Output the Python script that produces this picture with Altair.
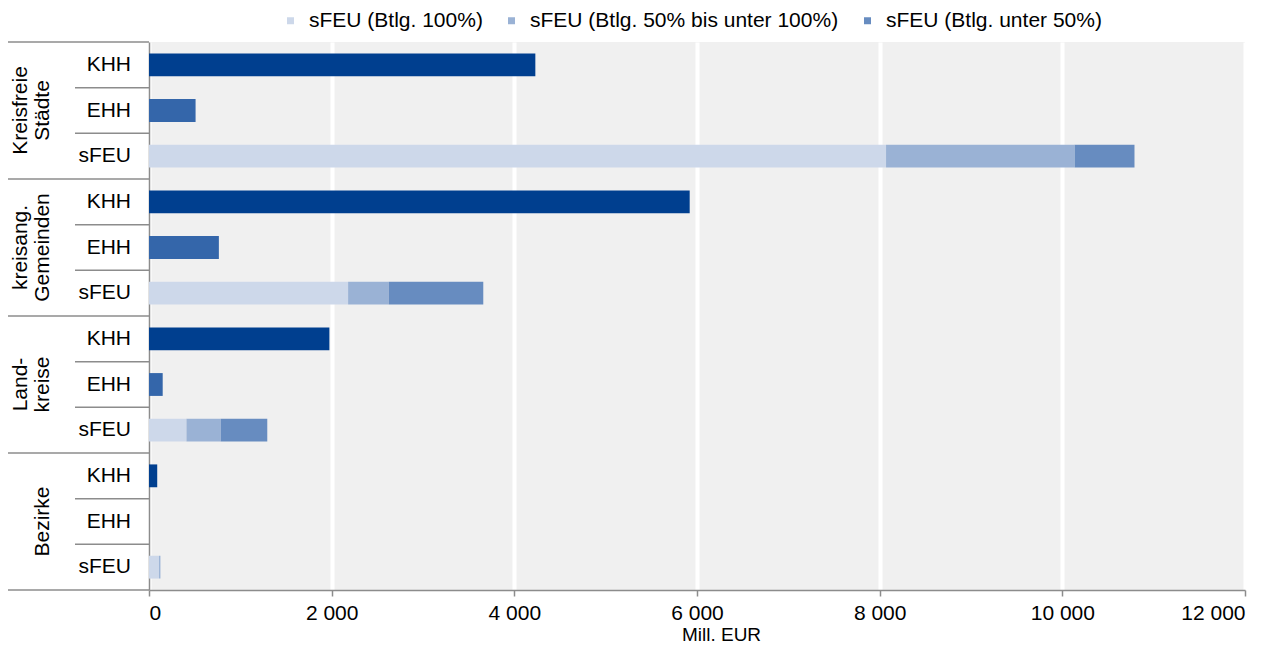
import altair as alt
import pandas as pd

# ---- data ----
group_labels = ["Kreisfreie\nStädte", "kreisang.\nGemeinden", "Land-\nkreise", "Bezirke"]
row_kinds = ["KHH", "EHH", "sFEU"]
khh = [4230, 5920, 1975, 90]
ehh = [510, 765, 150, 0]
sfeu_100 = [8070, 2180, 410, 110]
sfeu_50_100 = [2065, 445, 375, 15]
sfeu_u50 = [655, 1035, 510, 0]

series_names = ["KHH", "EHH", "sFEU (Btlg. 100%)", "sFEU (Btlg. 50% bis unter 100%)", "sFEU (Btlg. unter 50%)"]
series_colors = ["#003f8f", "#3466aa", "#cdd8ea", "#9ab2d5", "#678cc0"]
legend_values = series_names[2:]
x_ticks = [0, 2000, 4000, 6000, 8000, 10000, 12000]

FONT = "Liberation Sans"
FS = 21
LINE = "#8c8c8c"

rows = []
for gi in range(len(group_labels)):
    for k in row_kinds:
        rows.append(f"{gi}-{k}")

bar_recs = []
for gi in range(len(group_labels)):
    bar_recs.append({"row": f"{gi}-KHH", "series": "KHH", "value": khh[gi], "ord": 0})
    bar_recs.append({"row": f"{gi}-EHH", "series": "EHH", "value": ehh[gi], "ord": 0})
    bar_recs.append({"row": f"{gi}-sFEU", "series": series_names[2], "value": sfeu_100[gi], "ord": 0})
    bar_recs.append({"row": f"{gi}-sFEU", "series": series_names[3], "value": sfeu_50_100[gi], "ord": 1})
    bar_recs.append({"row": f"{gi}-sFEU", "series": series_names[4], "value": sfeu_u50[gi], "ord": 2})
bars_df = pd.DataFrame(bar_recs)

row_lab_df = pd.DataFrame({"row": rows, "label": [r.split("-")[1] for r in rows]})
grp_df = pd.DataFrame({
    "row": [f"{gi}-EHH" for gi in range(len(group_labels))],
    "label": group_labels,
    "lines": [lab.count("\n") + 1 for lab in group_labels],
})
bound_df = pd.DataFrame({"row": rows, "idx": list(range(len(rows)))})
bound_df["is_group"] = bound_df["idx"] % 3 == 0

yscale = alt.Scale(domain=rows, paddingInner=0, paddingOuter=0)


def Y(**kw):
    return alt.Y("row:N", scale=yscale, sort=rows, title=None,
                 axis=alt.Axis(labels=False, ticks=False, domain=True, domainColor=LINE,
                               domainWidth=1.5, grid=False), **kw)


bars = alt.Chart(bars_df).mark_bar(height=alt.RelativeBandSize(0.5)).encode(
    x=alt.X("value:Q", stack="zero", scale=alt.Scale(domain=[0, 12000], nice=False),
            title="Mill. EUR",
            axis=alt.Axis(values=x_ticks, grid=True, gridColor="white", gridWidth=4,
                          domainColor=LINE, domainWidth=1.5, tickColor=LINE,
                          tickWidth=1.5, tickSize=6, labelPadding=6,
                          labelExpr="replace(format(datum.value, ',d'), ',', ' ')",
                          labelFont=FONT, labelFontSize=FS, labelColor="black",
                          titleFont=FONT, titleFontSize=19, titleFontWeight="normal",
                          titleColor="black", titleX=572, titleY=50.8,
                          titleBaseline="alphabetic")),
    y=Y(),
    color=alt.Color("series:N", scale=alt.Scale(domain=series_names, range=series_colors),
                    legend=alt.Legend(values=legend_values, title=None, orient="none",
                                      legendX=131, legendY=-32, direction="horizontal",
                                      padding=0, symbolType="square", symbolSize=49,
                                      symbolStrokeWidth=0, labelFont=FONT, labelFontSize=FS,
                                      labelColor="black", labelLimit=0,
                                      columnPadding=18, labelOffset=8)),
    order=alt.Order("ord:Q"),
)

row_labels = alt.Chart(row_lab_df).mark_text(
    align="right", baseline="middle", font=FONT, fontSize=FS, color="black"
).encode(y=Y(), x=alt.value(-18), text="label:N")

grp_two = alt.Chart(grp_df[grp_df["lines"] > 1]).mark_text(
    align="center", baseline="middle", font=FONT, fontSize=FS, color="black",
    angle=270, lineBreak="\n", lineHeight=22
).encode(y=Y(), x=alt.value(-128), text="label:N")

grp_one = alt.Chart(grp_df[grp_df["lines"] == 1]).mark_text(
    align="center", baseline="middle", font=FONT, fontSize=FS, color="black", angle=270
).encode(y=Y(), x=alt.value(-106), text="label:N")

inner_rules = alt.Chart(bound_df[~bound_df["is_group"]]).mark_rule(
    color=LINE, strokeWidth=1.5
).encode(y=Y(bandPosition=0), x=alt.value(-74), x2=alt.value(0))

group_rules = alt.Chart(bound_df[bound_df["is_group"]]).mark_rule(
    color=LINE, strokeWidth=1.5
).encode(y=Y(bandPosition=0), x=alt.value(-141), x2=alt.value(0))

bottom_rule = alt.Chart(bound_df.tail(1)).mark_rule(
    color=LINE, strokeWidth=1.5
).encode(y=Y(bandPosition=1), x=alt.value(-141), x2=alt.value(0))

chart = alt.layer(
    bars, row_labels, grp_two, grp_one, inner_rules, group_rules, bottom_rule
).properties(
    width=1096, height=548,
    autosize=alt.AutoSizeParams(type="none"),
    padding={"left": 141, "top": 34, "right": 32, "bottom": 55},
).configure_view(
    fill="#f0f0f0", stroke=None
)

chart.save("out.html", embed_options={"renderer": "svg", "actions": False})
